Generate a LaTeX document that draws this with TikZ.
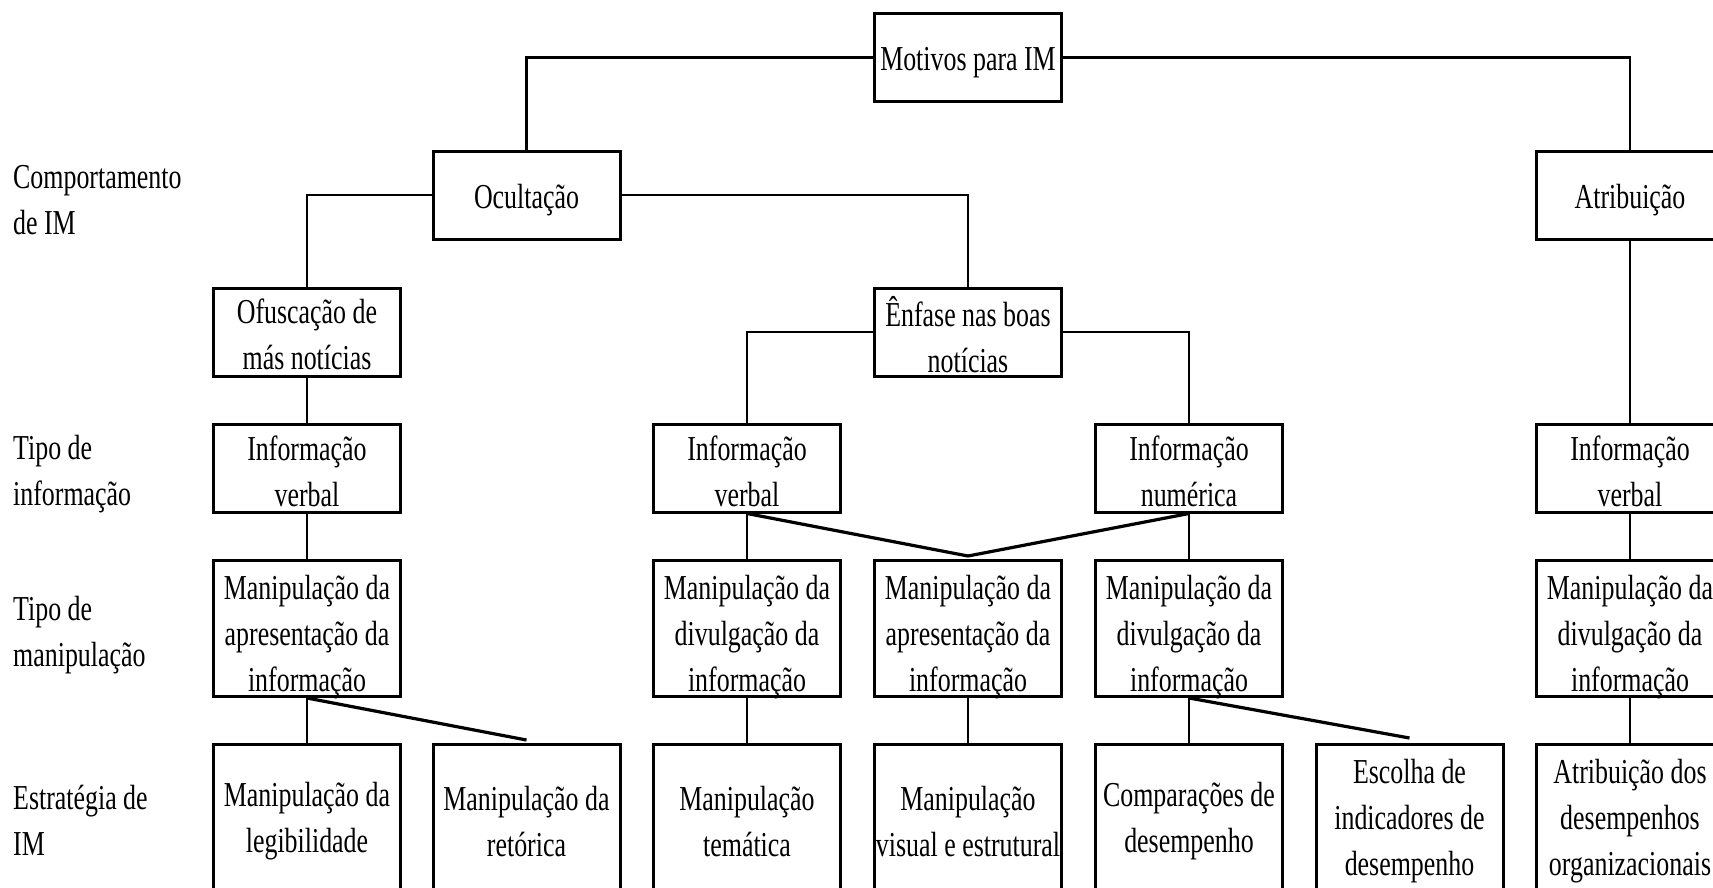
\documentclass[tikz,border=0pt]{standalone}
\usepackage{fontspec}
\setmainfont[FakeStretch=0.74]{Liberation Serif}
\newcommand\bxnode[5]{%
  \node[#1] (#2) at (#3) {};
  \node[txtc] (#2t) at ([yshift=#4]#2.center) {#5};}
\begin{document}
\begin{tikzpicture}[x=1pt,y=-1pt,
  txt/.style={font=\fontsize{35}{46}\selectfont},
  txtc/.style={txt, inner sep=0pt, align=center},
  box/.style={draw, line width=3pt, minimum width=187pt, inner sep=0pt},
  hA/.style={box, minimum height=88pt},
  hB/.style={box, minimum height=136pt},
  hC/.style={box, minimum height=145pt},
  conn/.style={line width=2.5pt},
  diag/.style={line width=3.2pt},
  lab/.style={txt, anchor=west, align=left, inner sep=0pt}]
\clip (0,0) rectangle (1713,887);
% row 0 / 1 / 2
\bxnode{hA}{m0}{968,57.5}{-5.5pt}{Motivos para IM}
\bxnode{hA}{oc}{526.5,195}{-5.5pt}{Ocultação}
\bxnode{hA}{at}{1630,195}{-5.5pt}{Atribuição}
\bxnode{hA}{of}{307,332}{-2.5pt}{Ofuscação de\\más notícias}
\bxnode{hA}{en}{968,332}{-2.5pt}{Ênfase nas boas\\notícias}
% row 3
\bxnode{hA}{i1}{307,468}{-3pt}{Informação\\verbal}
\bxnode{hA}{i3}{747,468}{-3pt}{Informação\\verbal}
\bxnode{hA}{i5}{1189,468}{-3pt}{Informação\\numérica}
\bxnode{hA}{i7}{1630,468}{-3pt}{Informação\\verbal}
% row 4
\bxnode{hB}{p1}{307,628.5}{-9pt}{Manipulação da\\apresentação da\\informação}
\bxnode{hB}{p3}{747,628.5}{-9pt}{Manipulação da\\divulgação da\\informação}
\bxnode{hB}{p4}{968,628.5}{-9pt}{Manipulação da\\apresentação da\\informação}
\bxnode{hB}{p5}{1189,628.5}{-9pt}{Manipulação da\\divulgação da\\informação}
\bxnode{hB}{p7}{1630,628.5}{-9pt}{Manipulação da\\divulgação da\\informação}
% row 5
\bxnode{hC}{s1}{307,817}{-4.5pt}{Manipulação da\\legibilidade}
\bxnode{hC}{s2}{526.5,817}{-4.5pt}{Manipulação da\\retórica}
\bxnode{hC}{s3}{747,817}{-4.5pt}{Manipulação\\temática}
\bxnode{hC}{s4}{968,817}{-4.5pt}{Manipulação\\visual e estrutural}
\bxnode{hC}{s5}{1189,817}{-4.5pt}{Comparações de\\desempenho}
\bxnode{hC}{s6}{1409.5,817}{-4.5pt}{Escolha de\\indicadores de\\desempenho}
\bxnode{hC}{s7}{1630,817}{-4.5pt}{Atribuição dos\\desempenhos\\organizacionais}
% left labels
\node[lab] (l1) at (13,200) {Comportamento\\de IM};
\node[lab] (l2) at (13,474) {Tipo de\\informação};
\node[lab] (l3) at (13,635) {Tipo de\\manipulação};
\node[lab] (l4) at (13,820) {Estratégia de\\IM};
% free ends of slanted connectors
\coordinate (d2) at (526.5,740);
\coordinate (d4) at (968,556);
\coordinate (d6) at (1409.5,738);
% connectors
\draw[conn] (m0.west) -| (oc.north);
\draw[conn] (m0.east) -| (at.north);
\draw[conn] (oc.west) -| (of.north);
\draw[conn] (oc.east) -| (en.north);
\draw[conn] (en.west) -| (i3.north);
\draw[conn] (en.east) -| (i5.north);
\draw[conn] (of.south) -- (i1.north);
\draw[conn] (at.south) -- (i7.north);
\draw[conn] (i1.south) -- (p1.north);
\draw[conn] (i3.south) -- (p3.north);
\draw[conn] (i5.south) -- (p5.north);
\draw[conn] (i7.south) -- (p7.north);
\draw[diag] (i3.south) -- (d4);
\draw[diag] (i5.south) -- (d4);
\draw[conn] (p1.south) -- (s1.north);
\draw[diag] (p1.south) -- (d2);
\draw[conn] (p3.south) -- (s3.north);
\draw[conn] (p4.south) -- (s4.north);
\draw[conn] (p5.south) -- (s5.north);
\draw[diag] (p5.south) -- (d6);
\draw[conn] (p7.south) -- (s7.north);
\end{tikzpicture}
\end{document}
